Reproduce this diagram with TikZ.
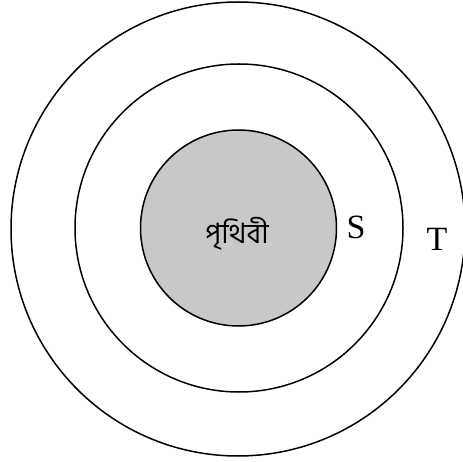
\documentclass[tikz,border=0pt]{standalone}
\usepackage{fontspec}
\setmainfont{Liberation Serif}
\newfontfamily\bnfont[Script=Bengali]{Hind Siliguri}
\definecolor{earthgray}{RGB}{200,200,200}
\begin{document}
\begin{tikzpicture}[x=1pt,y=-1pt,
  ring/.style={draw=black,line width=1.5pt},
  lbl/.style={font=\fontsize{34}{36}\selectfont,inner sep=0pt}]
\useasboundingbox (0,0) rectangle (463,462);
\draw[ring] (238,229) circle (227);
\draw[ring] (239,228) circle (164);
\draw[ring,fill=earthgray] (238.5,228) circle (98);
\node[inner sep=0pt] (earth) at (237,234) {\bnfont\fontsize{28}{30}\selectfont পৃথিবী};
\node[lbl] (S) at (356,227) {S};
\node[lbl] (T) at (437,239) {T};
\end{tikzpicture}
\end{document}
